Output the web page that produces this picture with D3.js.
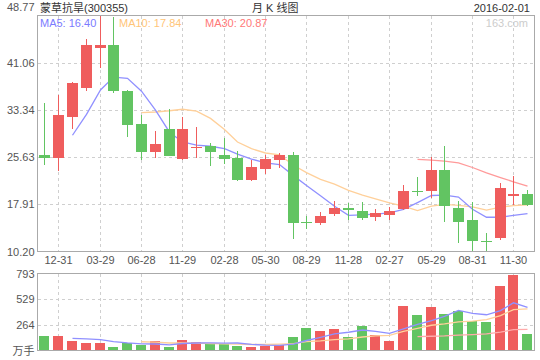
<!DOCTYPE html>
<html><head><meta charset="utf-8">
<script src="https://cdn.jsdelivr.net/npm/d3@7"></script>
<style>
html,body{margin:0;padding:0;background:#fff;}
svg{display:block;font-family:"Liberation Sans",Arial,"Noto Sans CJK SC",sans-serif;}
</style></head>
<body><svg id="c" width="540" height="360"></svg>
<script>
// ---- data ----
const dates = ["2012-11-30","2012-12-31","2013-01-31","2013-02-28","2013-03-29","2013-04-26","2013-05-31","2013-06-28",
  "2013-09-30","2013-10-31","2013-11-29","2013-12-31","2014-01-30","2014-02-28","2014-03-31","2014-04-30","2014-05-30",
  "2014-06-30","2014-07-31","2014-08-29","2014-09-30","2014-10-31","2014-11-28","2014-12-31","2015-01-30","2015-02-27",
  "2015-03-31","2015-04-30","2015-05-29","2015-06-30","2015-07-31","2015-08-31","2015-09-30","2015-10-30","2015-11-30","2015-12-31"];
const openP  = [26.05,25.45,32.15,36.89,43.43,43.87,36.51,30.96,26.43,30.30,25.29,27.20,27.41,26.05,25.56,21.86,23.71,25.13,
  25.89,14.94,14.83,16.30,17.39,16.90,15.81,16.14,17.12,20.12,20.06,23.44,17.39,15.27,11.89,12.33,19.35,19.52];
const highP  = [34.39,35.75,37.85,44.85,48.77,48.60,36.60,32.48,29.97,33.41,32.26,30.47,27.96,28.83,26.65,25.13,25.89,26.32,
  26.54,15.98,16.58,18.48,18.05,18.32,17.17,17.50,20.99,22.30,25.67,27.52,18.48,18.26,13.30,21.43,22.51,20.17];
const lowP   = [24.31,23.33,30.19,36.40,40.22,36.08,28.89,25.13,25.56,25.75,25.20,25.40,24.15,24.47,21.80,21.69,22.79,23.87,
  12.21,13.90,14.61,15.98,15.32,15.37,15.21,15.37,16.96,19.24,19.00,14.99,11.67,10.25,10.30,12.16,17.77,17.61];
const closeP = [25.56,32.43,37.82,44.03,43.87,36.40,30.85,26.43,27.69,25.78,30.14,27.36,26.43,25.29,21.86,24.09,25.24,25.89,
  14.83,14.78,15.98,17.39,16.96,15.70,16.47,16.90,20.01,19.90,23.44,17.66,14.99,11.89,11.78,20.50,19.63,17.72];
const ma5  = [null,null,29.2,32.6,36.6,38.7,38.5,36.4,33.3,29.7,28.1,27.6,27.4,27.0,26.1,25.3,24.7,24.4,
  22.6,21.0,19.3,17.6,16.1,16.2,16.3,16.5,17.1,18.2,19.35,19.4,19.1,17.1,15.8,15.8,16.1,16.40];
const ma10 = [null,null,null,null,null,null,null,32.9,33.0,33.2,33.45,33.15,31.95,30.15,28.1,27.0,26.3,26.0,
  24.3,23.1,22.0,21.2,20.2,19.4,18.8,18.15,17.6,16.9,17.6,17.9,17.75,17.5,16.95,17.45,17.7,17.84];
const ma30 = [null,null,null,null,null,null,null,null,null,null,null,null,null,null,null,null,null,null,
  null,null,null,null,null,null,null,null,null,25.24,25.12,24.96,24.69,23.93,23.06,22.29,21.59,20.87];
const volume = [151,151,100,79,79,38,79,59,93,38,110,90,72,72,48,38,48,55,141,234,203,223,141,254,162,100,
  460,368,450,378,409,306,296,666,780,172];
const vma5  = [null,null,124,120,112,92,78,68,67,58,72,77,78,76,77,63,55,52,66,103,136,171,188,211,197,176,
  223,269,308,351,413,382,368,411,491,444];
const vma10 = [null,null,null,null,null,null,null,90,86,77,79,76,72,69,65,62,62,66,71,91,100,113,120,139,150,156,
  197,229,260,274,295,303,318,360,421,429];
const vma30 = [null,null,null,null,null,null,null,null,null,null,null,null,null,null,null,null,null,null,
  null,null,null,null,null,null,null,null,null,142,147,150,159,164,171,190,214,218];
const priceTicks = [48.77,41.06,33.34,25.63,17.91,10.20];
const volTicks = [793,529,264];
const tickDates = ["2012-12-31","2013-03-29","2013-06-28","2013-11-29","2014-02-28","2014-05-30","2014-08-29",
  "2014-11-28","2015-02-27","2015-05-29","2015-08-31","2015-11-30"];
const legend = [{t:"MA5: 16.40",c:"#7b7bff",x:40},{t:"MA10: 17.84",c:"#ffc578",x:119},{t:"MA30: 20.87",c:"#ff7878",x:205}];

// ---- layout ----
const L=37.5, R=534.5, PT=15.5, PB=251.5, VT=273.5, VB=350.5;
const RED="#ef5d5d", GREEN="#62c462";
const svg = d3.select("#c");
const x = d3.scaleBand().domain(dates).range([37.5,534]);
const cx = d => Math.round(x(d) + x.bandwidth()/2);
const yP = d3.scaleLinear().domain([10.20,48.77]).range([PB,PT]);
const yV = d3.scaleLinear().domain([0,793]).range([VB,VT]);
const rows = dates.map((d,i)=>({d,o:openP[i],h:highP[i],l:lowP[i],c:closeP[i],v:volume[i],
  m5:ma5[i],m10:ma10[i],m30:ma30[i],v5:vma5[i],v10:vma10[i],v30:vma30[i]}));

const grid = svg.append("g").attr("stroke","#cfcfcf").attr("stroke-dasharray","3,3").attr("shape-rendering","crispEdges");
grid.selectAll(".hp").data(priceTicks.slice(1,-1)).join("line")
  .attr("x1",L).attr("x2",R).attr("y1",d=>Math.round(yP(d))+0.5).attr("y2",d=>Math.round(yP(d))+0.5);
grid.selectAll(".hv").data(volTicks.slice(1)).join("line").attr("class","hv")
  .attr("x1",L).attr("x2",R).attr("y1",d=>Math.round(yV(d))+0.5).attr("y2",d=>Math.round(yV(d))+0.5);
tickDates.forEach(d=>{
  grid.append("line").attr("x1",cx(d)+0.5).attr("x2",cx(d)+0.5).attr("y1",PT).attr("y2",PB);
  grid.append("line").attr("x1",cx(d)+0.5).attr("x2",cx(d)+0.5).attr("y1",VT).attr("y2",VB);
});

// MA lines (price)
const lineP = key => d3.line().defined(r=>r[key]!=null).x(r=>cx(r.d)+0.5).y(r=>yP(r[key]));
[["m30","#ff9a9a"],["m10","#ffd09a"],["m5","#9090ff"]].forEach(([k,c])=>{
  svg.append("path").datum(rows).attr("d",lineP(k)).attr("fill","none").attr("stroke",c).attr("stroke-width",1.3);
});

// candles
const cg = svg.append("g").attr("shape-rendering","crispEdges");
cg.selectAll("line").data(rows).join("line")
  .attr("x1",r=>cx(r.d)+0.5).attr("x2",r=>cx(r.d)+0.5)
  .attr("y1",r=>yP(r.h)).attr("y2",r=>yP(r.l))
  .attr("stroke",r=>r.c>=r.o?RED:GREEN);
cg.selectAll("rect").data(rows).join("rect")
  .attr("x",r=>cx(r.d)-5).attr("width",11)
  .attr("y",r=>yP(Math.max(r.o,r.c)))
  .attr("height",r=>Math.max(1,Math.abs(yP(r.o)-yP(r.c))))
  .attr("fill",r=>r.c>=r.o?RED:GREEN);

// volume bars
svg.append("g").attr("shape-rendering","crispEdges").selectAll("rect").data(rows).join("rect")
  .attr("x",r=>cx(r.d)-5).attr("width",10)
  .attr("y",r=>yV(r.v)).attr("height",r=>VB-yV(r.v))
  .attr("fill",r=>r.c>=r.o?RED:GREEN);
const lineV = key => d3.line().defined(r=>r[key]!=null).x(r=>cx(r.d)+0.5).y(r=>yV(r[key]));
[["v30","#ffabab"],["v10","#ffd09a"],["v5","#9090ff"]].forEach(([k,c])=>{
  svg.append("path").datum(rows).attr("d",lineV(k)).attr("fill","none").attr("stroke",c).attr("stroke-width",1.3);
});

// frames
svg.append("rect").attr("x",L).attr("y",PT).attr("width",R-L).attr("height",PB-PT)
  .attr("fill","none").attr("stroke","#aaaaaa").attr("shape-rendering","crispEdges");
svg.append("rect").attr("x",L).attr("y",VT).attr("width",R-L).attr("height",VB-VT)
  .attr("fill","none").attr("stroke","#aaaaaa").attr("shape-rendering","crispEdges");

// axis labels
const lab = svg.append("g").attr("font-size",11).attr("fill","#555");
lab.selectAll(".py").data(priceTicks).join("text")
  .attr("x",34.5).attr("text-anchor","end")
  .attr("y",(d,i)=> i===0 ? yP(d)-5 : yP(d)+4).text(d=>d.toFixed(2));
lab.selectAll(".vy").data(volTicks).join("text").attr("class","vy")
  .attr("x",34.5).attr("text-anchor","end").attr("y",d=>yV(d)+4).text(d=>d);
lab.append("text").attr("x",34.5).attr("text-anchor","end").attr("y",VB+4.5).text("万手");
const xa = svg.append("g").attr("transform",`translate(0,${PB})`)
  .call(d3.axisBottom(x).tickValues(tickDates).tickFormat(d=>d.slice(5)).tickSize(0).tickPadding(5));
xa.select(".domain").remove();
xa.selectAll("text").attr("font-size",11).attr("fill","#555").attr("font-family",null)
  .attr("x",0);
xa.selectAll(".tick").attr("transform",d=>`translate(${cx(d)+0.5},0)`);

// header
svg.append("text").attr("x",40).attr("y",11.5).attr("font-size",11).attr("fill","#333").text("蒙草抗旱(300355)");
svg.append("text").attr("x",252).attr("y",11.5).attr("font-size",11).attr("fill","#333").text("月 K 线图");
svg.append("text").attr("x",530).attr("y",11.5).attr("text-anchor","end").attr("font-size",11).attr("fill","#333").text("2016-02-01");
svg.append("text").attr("x",528).attr("y",27).attr("text-anchor","end").attr("font-size",11).attr("fill","#cccccc").text("163.com");
svg.selectAll(".lg").data(legend).join("text").attr("x",d=>d.x).attr("y",27).attr("font-size",11)
  .attr("fill",d=>d.c).text(d=>d.t);
</script></body></html>
